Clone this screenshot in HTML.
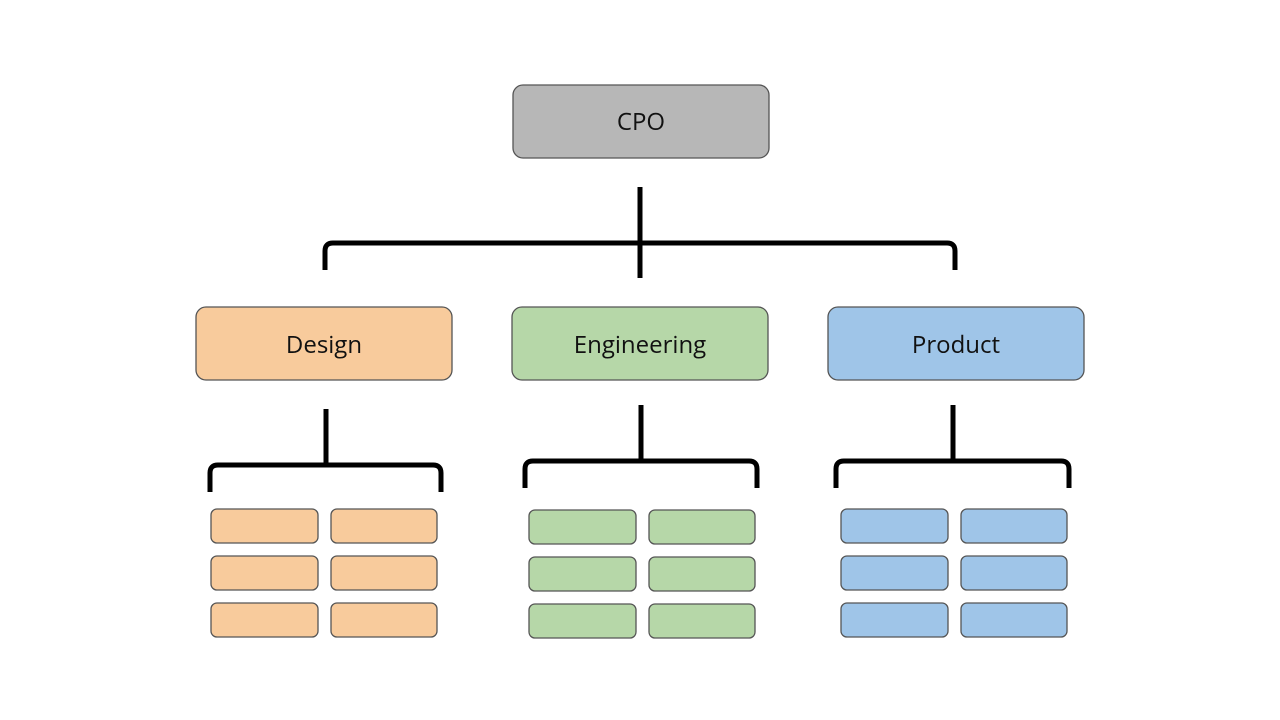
<!DOCTYPE html>
<html><head><meta charset="utf-8"><style>
html,body{margin:0;padding:0;background:#fff;}
svg{display:block;}
text{font-family:"Open Sans","DejaVu Sans","Liberation Sans",sans-serif;font-size:24px;fill:#111;}
</style></head><body>
<svg width="1280" height="720" viewBox="0 0 1280 720" xmlns="http://www.w3.org/2000/svg">
<g fill="none" stroke="#000" stroke-width="5" stroke-linejoin="round">
<line x1="640" y1="187" x2="640" y2="278"/>
<path d="M325 270 V251 Q325 243 333 243 H947 Q955 243 955 251 V270"/>
<line x1="326" y1="409" x2="326" y2="465"/>
<path d="M210 492 V473 Q210 465 218 465 H433 Q441 465 441 473 V492"/>
<line x1="641" y1="405" x2="641" y2="461"/>
<path d="M525 488 V469 Q525 461 533 461 H749 Q757 461 757 469 V488"/>
<line x1="953" y1="405" x2="953" y2="461"/>
<path d="M836 488 V469 Q836 461 844 461 H1061 Q1069 461 1069 469 V488"/>
</g>
<g stroke="#555" stroke-width="1.3">
<rect x="513" y="85" width="256" height="73" rx="10" fill="#b7b7b7"/>
<rect x="196" y="307" width="256" height="73" rx="10" fill="#f8cb9c"/>
<rect x="512" y="307" width="256" height="73" rx="10" fill="#b6d7a8"/>
<rect x="828" y="307" width="256" height="73" rx="10" fill="#9fc5e8"/>
</g>
<text x="641" y="130" text-anchor="middle">CPO</text>
<text x="324" y="353" text-anchor="middle">Design</text>
<text x="640" y="353" text-anchor="middle">Engineering</text>
<text x="956" y="353" text-anchor="middle">Product</text>
<g stroke="#555" stroke-width="1.3" fill="#f8cb9c">
<rect x="211" y="509" width="107" height="34" rx="6"/><rect x="331" y="509" width="106" height="34" rx="6"/>
<rect x="211" y="556" width="107" height="34" rx="6"/><rect x="331" y="556" width="106" height="34" rx="6"/>
<rect x="211" y="603" width="107" height="34" rx="6"/><rect x="331" y="603" width="106" height="34" rx="6"/>
</g>
<g stroke="#555" stroke-width="1.3" fill="#b6d7a8">
<rect x="529" y="510" width="107" height="34" rx="6"/><rect x="649" y="510" width="106" height="34" rx="6"/>
<rect x="529" y="557" width="107" height="34" rx="6"/><rect x="649" y="557" width="106" height="34" rx="6"/>
<rect x="529" y="604" width="107" height="34" rx="6"/><rect x="649" y="604" width="106" height="34" rx="6"/>
</g>
<g stroke="#555" stroke-width="1.3" fill="#9fc5e8">
<rect x="841" y="509" width="107" height="34" rx="6"/><rect x="961" y="509" width="106" height="34" rx="6"/>
<rect x="841" y="556" width="107" height="34" rx="6"/><rect x="961" y="556" width="106" height="34" rx="6"/>
<rect x="841" y="603" width="107" height="34" rx="6"/><rect x="961" y="603" width="106" height="34" rx="6"/>
</g>
</svg>
</body></html>
